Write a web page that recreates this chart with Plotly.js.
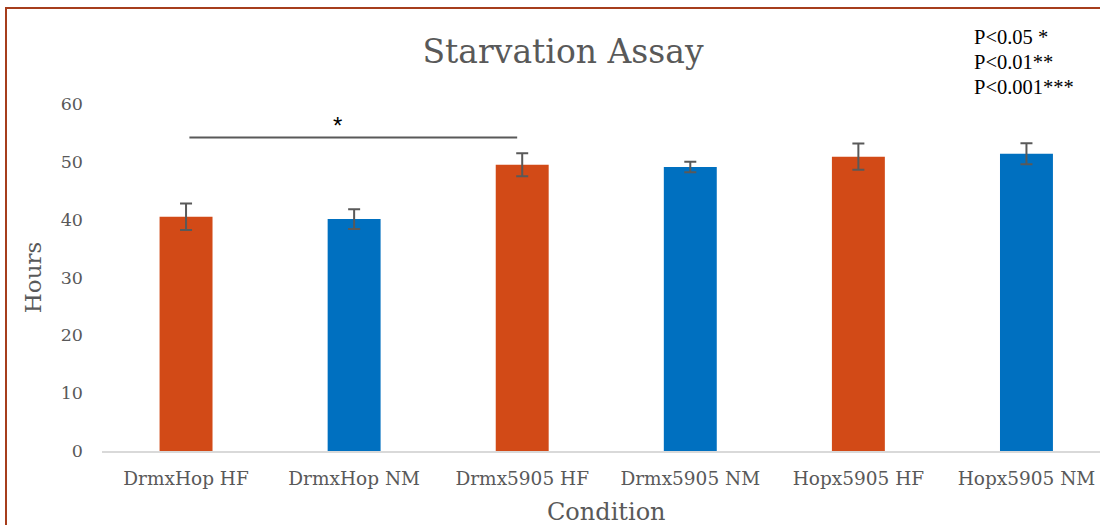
<!DOCTYPE html>
<html>
<head>
<meta charset="utf-8">
<script src="https://cdn.plot.ly/plotly-3.0.1.min.js"></script>
<style>
  html, body { margin: 0; padding: 0; background: #fff; overflow: hidden; }
  #wrap { position: relative; width: 1100px; height: 525px; }
  #chart { width: 1100px; height: 525px; }
  #frame { position: absolute; left: 5px; top: 7px; width: 1200px; height: 600px;
           border: 2px solid #A63D1C; pointer-events: none; box-sizing: border-box; }
</style>
</head>
<body>
<div id="wrap">
  <div id="chart"></div>
  <div id="frame"></div>
</div>
<script>
// ---- data ----
const categories = ["DrmxHop HF", "DrmxHop NM", "Drmx5905 HF", "Drmx5905 NM", "Hopx5905 HF", "Hopx5905 NM"];
const hours      = [40.5, 40.1, 49.5, 49.1, 50.9, 51.4];
const errors     = [2.3, 1.7, 2.0, 0.9, 2.25, 1.8];
const groups     = ["HF", "NM", "HF", "NM", "HF", "NM"];
const yTicks     = [0, 10, 20, 30, 40, 50, 60];
const sigFrom    = 0;   // category index
const sigTo      = 2;   // category index
const sigLevel   = 54.2; // hours
const sigLabel   = "*";
const pLegend    = ["P<0.05 *", "P<0.01**", "P<0.001***"];

const groupColors = { HF: "#D24A17", NM: "#0070C0" };
const slab = "Rockwell, 'DejaVu Serif', serif";
const gray = "#595959";

const trace = {
  type: "bar",
  x: categories.map((c, i) => i),
  y: hours,
  width: 0.315,
  marker: { color: groups.map(g => groupColors[g]) },
  error_y: { type: "data", array: errors, visible: true, color: gray, thickness: 2, width: 6 },
  hoverinfo: "skip"
};

const plotW = 1100 - 102, plotH = 525 - 104 - 74;

const layout = {
  width: 1100, height: 525,
  margin: { l: 102, r: 0, t: 104, b: 74 },
  paper_bgcolor: "#fff", plot_bgcolor: "#fff",
  showlegend: false,
  title: { text: "Starvation Assay", font: { family: slab, size: 33, color: gray },
           x: 563 / 1100, xref: "container", xanchor: "center",
           y: 1 - 51 / 525, yref: "container", yanchor: "middle" },
  xaxis: {
    range: [-0.5, 5.4375],
    tickmode: "array", tickvals: categories.map((c, i) => i), ticktext: categories,
    showgrid: false, zeroline: false, showline: true, linecolor: "#D9D9D9", linewidth: 1.5,
    ticks: "", ticklabelstandoff: 10,
    tickfont: { family: slab, size: 18.5, color: gray }
  },
  yaxis: {
    range: [0, 60],
    tickmode: "array", tickvals: yTicks,
    showgrid: false, zeroline: false, showline: false, ticks: "",
    ticklabelstandoff: 18,
    tickfont: { family: slab, size: 17.5, color: gray },
    title: { text: "Hours", font: { family: slab, size: 23, color: gray }, standoff: 12 }
  },
  shapes: [{
    type: "line", xref: "x", yref: "y",
    x0: sigFrom + 0.02, x1: sigTo - 0.03, y0: sigLevel, y1: sigLevel,
    line: { color: gray, width: 2 }
  }],
  annotations: [
    { x: (sigFrom + sigTo) / 2 - 0.1, y: sigLevel, xref: "x", yref: "y", yanchor: "bottom",
      text: sigLabel, showarrow: false, font: { family: "'Liberation Sans', Arial, sans-serif", size: 24, color: "#000" }, yshift: -3 },
    { xref: "paper", yref: "paper", x: (606 - 102) / plotW, y: (451 - 512) / plotH,
      xanchor: "center", yanchor: "middle", showarrow: false,
      text: "Condition", font: { family: slab, size: 24, color: gray } }
  ]
};
pLegend.forEach((t, i) => {
  layout.annotations.push({
    xref: "paper", yref: "paper",
    x: (972 - 102) / plotW, y: (525 - 74 - (37 + i * 25)) / plotH,
    xanchor: "left", yanchor: "middle", showarrow: false, align: "left",
    text: t, font: { family: "'Liberation Serif', 'Times New Roman', serif", size: 20.5, color: "#000" }
  });
});

Plotly.newPlot("chart", [trace], layout, { displayModeBar: false, staticPlot: true });
</script>
</body>
</html>
